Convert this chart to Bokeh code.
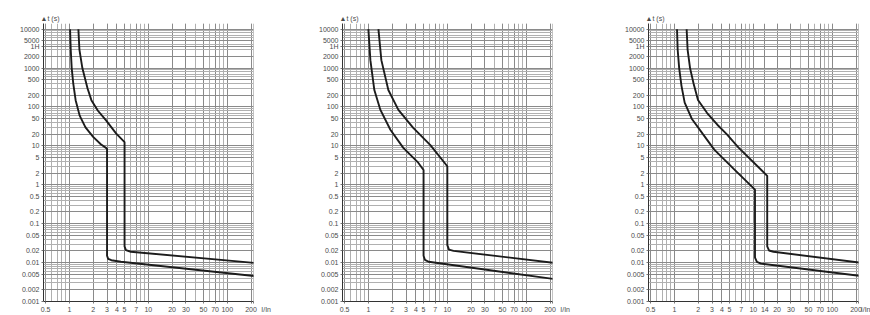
from bokeh.plotting import figure
from bokeh.models import FixedTicker, Range1d
from bokeh.layouts import row
from bokeh.embed import file_html
from bokeh.resources import INLINE

# ---------------- data ----------------
X_MIN, X_MAX = 0.47, 215
Y_MIN, Y_MAX = 0.001, 14000

y_tick_values = [0.001, 0.002, 0.005, 0.01, 0.02, 0.05, 0.1, 0.2, 0.5, 1, 2, 5,
                 10, 20, 50, 100, 200, 500, 1000, 2000, 3600, 5000, 10000]
y_tick_labels = ["0.001", "0.002", "0.005", "0.01", "0.02", "0.05", "0.1", "0.2", "0.5",
                 "1", "2", "5", "10", "20", "50", "100", "200", "500", "1000", "2000",
                 "1H", "5000", "10000"]

x_ticks_bc = [0.5, 1, 2, 3, 4, 5, 7, 10, 20, 30, 50, 70, 100, 200]
x_ticks_d = [0.5, 1, 2, 3, 4, 5, 7, 10, 14, 20, 30, 50, 70, 100, 200]

y_axis_title = "\u25b2t (s)"
x_axis_title = "I/In"

# curve B (3 - 5 In)
b_low_x = [1.02, 1.04, 1.07, 1.12, 1.2, 1.35, 1.6, 2.0, 2.5, 3.0, 3.0, 3.1, 3.4, 4.5, 220]
b_low_t = [10000, 3000, 1000, 400, 150, 60, 30, 17, 11, 8.5, 0.015, 0.0125, 0.0115, 0.0105, 0.0045]
b_high_x = [1.3, 1.34, 1.46, 1.7, 1.9, 2.3, 2.9, 3.9, 5.0, 5.0, 5.2, 6.0, 220]
b_high_t = [10000, 3000, 1000, 300, 150, 80, 46, 21, 12.5, 0.026, 0.021, 0.019, 0.0098]

# curve C (5 - 10 In)
c_low_x = [1.0, 1.06, 1.19, 1.42, 1.9, 2.77, 4.28, 5.0, 5.0, 5.2, 5.8, 220]
c_low_t = [10000, 1600, 273, 84, 26, 8.9, 3.7, 2.4, 0.015, 0.0118, 0.0105, 0.0038]
c_high_x = [1.34, 1.46, 1.79, 2.4, 3.7, 6.1, 10, 10, 10.5, 12, 36, 220]
c_high_t = [10000, 1600, 273, 84, 29, 10.5, 3.0, 0.028, 0.0215, 0.020, 0.0153, 0.0099]

# curve D (10 - 14 In)
d_low_x = [1.08, 1.1, 1.15, 1.23, 1.35, 1.66, 2.3, 3.2, 5.6, 10.5, 10.5, 11.1, 12.5, 220]
d_low_t = [10000, 3000, 1000, 350, 130, 50, 20, 8, 2.6, 0.75, 0.0135, 0.0105, 0.0094, 0.0046]
d_high_x = [1.43, 1.47, 1.58, 1.75, 1.99, 2.6, 3.5, 4.6, 6.5, 15, 15, 15.8, 18, 220]
d_high_t = [10000, 3000, 1000, 400, 151, 70, 35, 20, 9, 1.7, 0.026, 0.0205, 0.019, 0.0100]

panels = [
    dict(ticks=x_ticks_bc, curves=[(b_low_x, b_low_t), (b_high_x, b_high_t)]),
    dict(ticks=x_ticks_bc, curves=[(c_low_x, c_low_t), (c_high_x, c_high_t)]),
    dict(ticks=x_ticks_d, curves=[(d_low_x, d_low_t), (d_high_x, d_high_t)]),
]

# minor grid values (1..9 per decade)
y_minor = [m * 10.0 ** e for e in range(-3, 5) for m in range(1, 10)]
x_minor = [m * 10.0 ** e for e in range(-1, 3) for m in range(1, 10)]

FONT = "Liberation Sans"
TXT = "#4a4a4a"
NB = "\u00a0"
# (figure width, left border, right border)
sizes = [(300, 43, 47), (300, 42, 48), (270, 48, 12)]

figs = []
for panel, (w, bl, br) in zip(panels, sizes):
    p = figure(width=w, height=315, x_axis_type="log", y_axis_type="log",
               x_range=Range1d(X_MIN, X_MAX), y_range=Range1d(Y_MIN, Y_MAX),
               output_backend="svg", toolbar_location=None,
               min_border_left=bl, min_border_right=br,
               min_border_top=23, min_border_bottom=13)
    p.outline_line_color = None
    p.background_fill_color = "white"

    # y-axis title (arrow + t (s)) via the plot title
    p.title.text = y_axis_title
    p.title.align = "left"
    p.title.offset = -3
    p.title.standoff = 4
    p.title.text_font = FONT
    p.title.text_font_size = "7px"
    p.title.text_font_style = "normal"
    p.title.text_color = TXT

    p.yaxis.ticker = FixedTicker(ticks=y_tick_values, minor_ticks=y_minor)
    p.yaxis.major_label_overrides = {v: s for v, s in zip(y_tick_values, y_tick_labels)}

    end_tick = X_MAX * 0.999
    xt = list(panel["ticks"]) + [end_tick]
    p.xaxis.ticker = FixedTicker(ticks=xt, minor_ticks=x_minor)
    overrides = {v: ("%g" % v) for v in panel["ticks"]}
    overrides[end_tick] = NB * 13 + x_axis_title
    p.xaxis.major_label_overrides = overrides

    for ax in (p.xaxis, p.yaxis):
        ax.major_label_text_font = FONT
        ax.major_label_text_font_size = "7px"
        ax.major_label_text_color = TXT
        ax.axis_line_color = "#333333"
        ax.major_tick_line_color = "#777777"
        ax.major_tick_out = 2
        ax.major_tick_in = 0
        ax.minor_tick_out = 0
        ax.minor_tick_in = 0
        ax.major_label_standoff = 2

    for g in (p.xgrid, p.ygrid):
        g.grid_line_color = "#8a8a8a"
        g.grid_line_width = 1
        g.minor_grid_line_color = "#b0b0b0"
        g.minor_grid_line_width = 1

    for xs, ts in panel["curves"]:
        p.line(xs, ts, line_color="#1c1c1c", line_width=1.9)

    figs.append(p)

layout = row(*figs)
open("out.html", "w").write(file_html(layout, INLINE))
